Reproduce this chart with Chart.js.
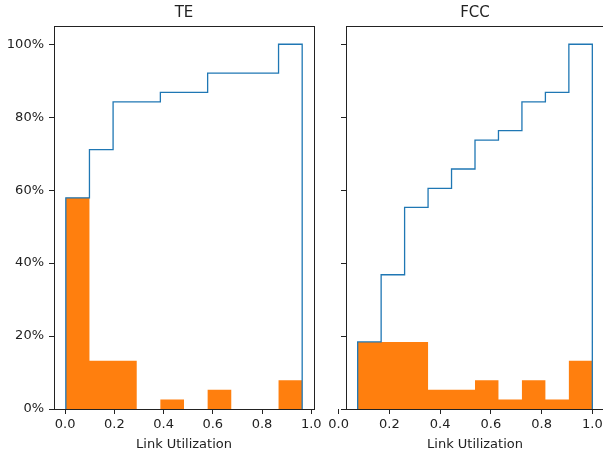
<!DOCTYPE html>
<html>
<head>
<meta charset="utf-8">
<script src="https://cdn.jsdelivr.net/npm/chart.js@4.4.0/dist/chart.umd.min.js"></script>
<style>
html, body { margin: 0; padding: 0; background: #fff; overflow: hidden; }
#wrap { position: relative; width: 603px; height: 454px; overflow: hidden; }
#te { position: absolute; left: 0; top: 0; }
#fcc { position: absolute; left: 320px; top: 0; }
</style>
</head>
<body>
<div id="wrap">
  <canvas id="te" width="330" height="454"></canvas>
  <canvas id="fcc" width="300" height="454"></canvas>
</div>
<script>
const xLabel = 'Link Utilization';
const yTicks = [0, 20, 40, 60, 80, 100];
const xTicks = [0.0, 0.2, 0.4, 0.6, 0.8, 1.0];

// TE: bin edges, histogram share (%) and cumulative share (%)
const teEdges = [0.003, 0.099, 0.195, 0.291, 0.387, 0.483, 0.579, 0.675, 0.771, 0.867, 0.963];
const teHist = [57.9, 13.2, 13.2, 0, 2.6, 0, 5.3, 0, 0, 7.9];
const teCum = [57.9, 71.1, 84.2, 84.2, 86.8, 86.8, 92.1, 92.1, 92.1, 100];

// FCC
const fccEdges = [0.075, 0.1675, 0.26, 0.3525, 0.445, 0.5375, 0.63, 0.7225, 0.815, 0.9075, 1.0];
const fccHist = [18.4, 18.4, 18.4, 5.3, 5.3, 7.9, 2.6, 7.9, 2.6, 13.2];
const fccCum = [18.4, 36.8, 55.3, 60.5, 65.8, 73.7, 76.3, 84.2, 86.8, 100];

const ink = '#222';
Chart.defaults.font.family = 'DejaVu Sans';
Chart.defaults.color = ink;

// step outline of a histogram: up at the first edge, flat over each bin, down at the last edge
function outline(edges, vals) {
  const pts = [{x: edges[0], y: 0}];
  vals.forEach((v, i) => {
    pts.push({x: edges[i], y: v});
    pts.push({x: edges[i + 1], y: v});
  });
  pts.push({x: edges[edges.length - 1], y: 0});
  return pts;
}

// frame round the plot area, like matplotlib spines
const boxPlugin = {
  id: 'box',
  afterDraw(chart) {
    const {ctx, chartArea: a} = chart;
    ctx.save();
    ctx.strokeStyle = ink;
    ctx.lineWidth = 1;
    ctx.strokeRect(Math.round(a.left) + 0.5, Math.round(a.top) + 0.5,
      Math.round(a.right) - Math.round(a.left), Math.round(a.bottom) - Math.round(a.top));
    ctx.restore();
  }
};

function makeChart(id, title, edges, hist, cum, xMin, xMax, yWidth, yLabels) {
  return new Chart(document.getElementById(id), {
    type: 'line',
    data: {
      datasets: [
        { data: outline(edges, cum), borderColor: '#1f77b4', borderWidth: 1.3,
          pointRadius: 0, fill: false, tension: 0 },
        { data: outline(edges, hist), borderWidth: 0, borderColor: 'rgba(0,0,0,0)',
          backgroundColor: '#ff7f0e', pointRadius: 0, fill: 'origin', tension: 0 }
      ]
    },
    options: {
      responsive: false,
      animation: false,
      layout: { padding: { left: 0, right: 16, top: 0, bottom: 0 } },
      plugins: {
        legend: { display: false },
        tooltip: { enabled: false },
        title: { display: true, text: title, fullSize: false, color: ink,
          font: { size: 15, weight: 'normal' }, padding: { top: 4, bottom: 4 } }
      },
      scales: {
        x: {
          type: 'linear', min: xMin, max: xMax,
          afterBuildTicks: s => { s.ticks = xTicks.map(v => ({value: v})); },
          afterFit: s => { s.height = 45; },
          border: { display: false },
          grid: { drawOnChartArea: false, tickLength: 5, color: ink },
          ticks: { padding: 3, font: { size: 13 }, maxRotation: 0, autoSkip: false,
            callback: v => v.toFixed(1) },
          title: { display: true, text: xLabel, font: { size: 13 }, padding: { top: 0, bottom: 2 } }
        },
        y: {
          min: 0, max: 105,
          afterBuildTicks: s => { s.ticks = yTicks.map(v => ({value: v})); },
          afterFit: s => { s.width = yWidth; },
          border: { display: false },
          grid: { drawOnChartArea: false, tickLength: 5, color: ink },
          ticks: { padding: 5, font: { size: 13 },
            callback: v => yLabels ? v + '%' : '' }
        }
      }
    },
    plugins: [boxPlugin]
  });
}

makeChart('te', 'TE', teEdges, teHist, teCum, -0.045, 1.011, 54, true);
makeChart('fcc', 'FCC', fccEdges, fccHist, fccCum, 0.029, 1.046, 26, false);
</script>
</body>
</html>
